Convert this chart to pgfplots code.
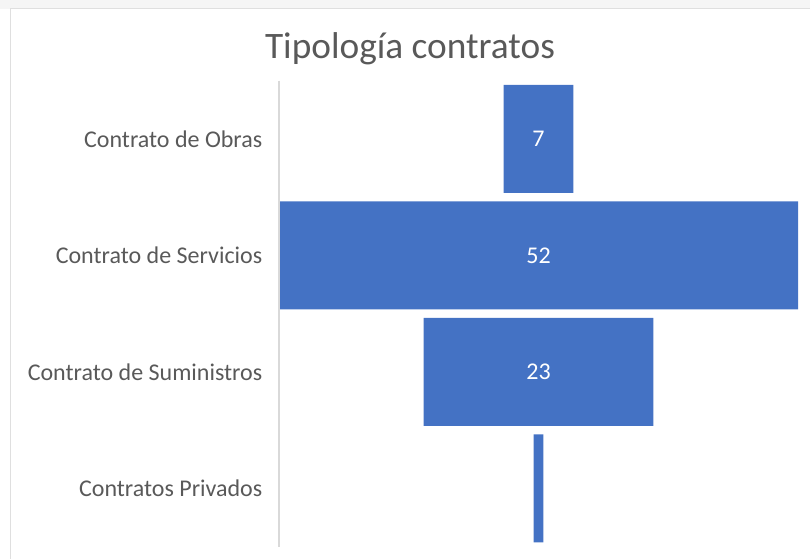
\documentclass[border=0pt]{standalone}
\usepackage{pgfplots}
\pgfplotsset{compat=1.18}
\usepackage{pgfplotstable}
\usepackage{fontspec}
\setmainfont{Carlito}
\definecolor{barblue}{HTML}{4472C4}
\definecolor{txtgray}{HTML}{595959}
\definecolor{axgray}{HTML}{D9D9D9}
\pgfplotstableread{
y off end mid v
0 22.5 29.5 26 7
1 0 52 26 52
2 14.5 37.5 26 23
3 25.5 26.5 26 1
}\funnel
\begin{document}
\begin{tikzpicture}
\useasboundingbox (0,0) rectangle (607.5pt,419.25pt);
\fill[gray!8] (0,412.5pt) rectangle (607.5pt,419.25pt);
\draw[gray!25,line width=0.75pt] (7.5pt,0) -- (7.5pt,412.5pt) -- (607.5pt,412.5pt);
\node[text=txtgray,font=\fontsize{28}{32}\selectfont] at (307.5pt,382.5pt) {Tipología contratos};
\begin{axis}[
  at={(209.25pt,9.2pt)}, anchor=south west,
  width=390.75pt, height=349.5pt, scale only axis,
  xmin=0, xmax=52.2, ymin=-0.5, ymax=3.5, y dir=reverse,
  axis line style={draw=none},
  hide x axis,
  ytick={0,1,2,3},
  yticklabels={Contrato de Obras,Contrato de Servicios,Contrato de Suministros,Contratos Privados},
  ytick style={draw=none},
  yticklabel style={text=txtgray,font=\fontsize{18}{22}\selectfont},
  y tick label style={xshift=-9pt},
  /pgf/number format/assume math mode=true,
  clip=false,
]
\addplot[xbar, bar width=81pt, bar shift=0pt, fill=barblue, draw=none] table[x=end,y=y] {\funnel};
\addplot[xbar, bar width=84pt, bar shift=0pt, fill=white, draw=none] table[x=off,y=y] {\funnel};
\addplot[only marks, mark=none, point meta=explicit, nodes near coords,
  nodes near coords align=center,
  every node near coord/.append style={text=white,font=\fontsize{18}{22}\selectfont}]
  coordinates {(26,0) [7] (26,1) [52] (26,2) [23]};
\draw[axgray,line width=1.2pt] (axis cs:0,-0.5) -- (axis cs:0,3.5);
\end{axis}
\end{tikzpicture}
\end{document}
